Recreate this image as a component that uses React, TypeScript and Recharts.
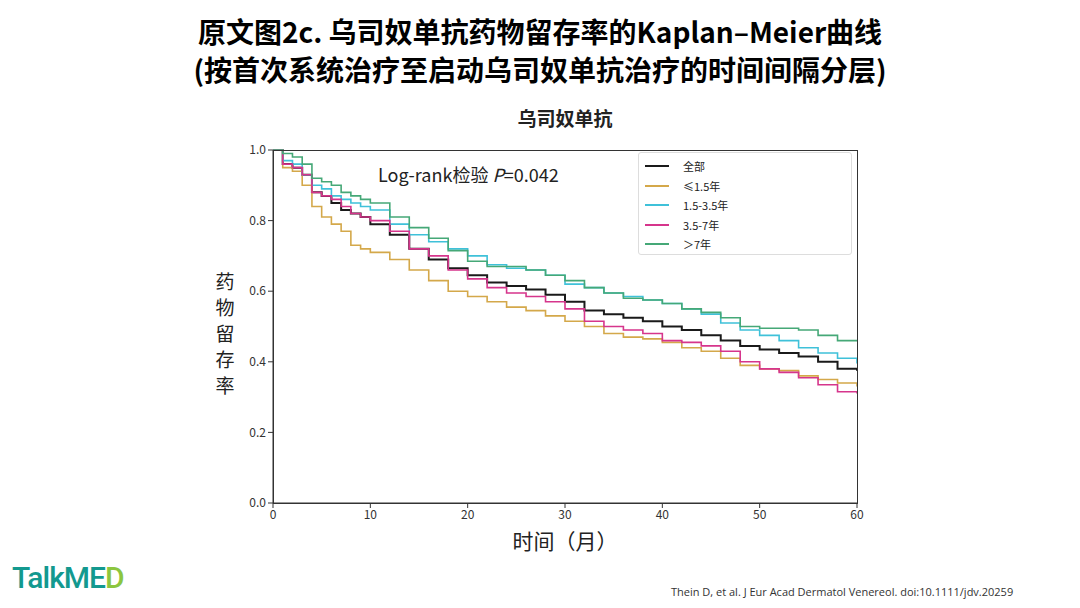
import React from "react";
import { LineChart, Line, XAxis, YAxis } from "recharts";

const months = [0,1,2,3,4,5,6,7,8,9,10,12,14,16,18,20,22,24,26,28,30,32,34,36,38,40,42,44,46,48,50,52,54,56,58,60];
const allVals = [1,0.96,0.95,0.93,0.88,0.87,0.85,0.83,0.82,0.81,0.79,0.76,0.72,0.69,0.665,0.645,0.625,0.615,0.605,0.59,0.57,0.545,0.535,0.525,0.515,0.5,0.49,0.475,0.46,0.445,0.435,0.425,0.415,0.4,0.38,0.375];
const le15Vals = [1,0.95,0.94,0.9,0.84,0.81,0.79,0.77,0.73,0.72,0.71,0.69,0.66,0.63,0.6,0.585,0.57,0.555,0.545,0.53,0.515,0.5,0.48,0.47,0.465,0.455,0.44,0.43,0.41,0.39,0.38,0.375,0.36,0.35,0.34,0.33];
const v15to35 = [1,0.97,0.96,0.93,0.9,0.89,0.87,0.86,0.85,0.84,0.83,0.79,0.76,0.74,0.72,0.7,0.675,0.665,0.66,0.645,0.62,0.61,0.595,0.585,0.575,0.565,0.55,0.535,0.51,0.49,0.475,0.46,0.44,0.425,0.41,0.395];
const v35to7 = [1,0.96,0.95,0.93,0.88,0.87,0.86,0.84,0.82,0.81,0.8,0.77,0.72,0.7,0.66,0.635,0.61,0.595,0.585,0.57,0.55,0.515,0.5,0.49,0.48,0.46,0.455,0.445,0.43,0.4,0.38,0.37,0.355,0.335,0.315,0.31];
const gt7Vals = [1,0.99,0.98,0.96,0.92,0.91,0.9,0.88,0.87,0.86,0.85,0.81,0.78,0.75,0.715,0.685,0.67,0.67,0.66,0.645,0.63,0.61,0.595,0.58,0.575,0.565,0.55,0.54,0.525,0.5,0.495,0.495,0.49,0.475,0.46,0.46];
const xTicks = [0,10,20,30,40,50,60];
const yTicks = [0,0.2,0.4,0.6,0.8,1.0];

const series = [
  { name: "全部", vals: allVals, color: "#1a1a1a" },
  { name: "≤1.5年", vals: le15Vals, color: "#d4a84a" },
  { name: "1.5-3.5年", vals: v15to35, color: "#3fc1d9" },
  { name: "3.5-7年", vals: v35to7, color: "#d6358c" },
  { name: "＞7年", vals: gt7Vals, color: "#45a877" },
];
const data = months.map((m, i) => {
  const r: any = { m };
  series.forEach((s, k) => (r["s" + k] = s.vals[i]));
  return r;
});

const abs = (x: number, y: number, extra: any = {}) => ({ position: "absolute" as const, left: x, top: y, ...extra });
const font = "'Noto Sans CJK SC', 'Noto Sans', sans-serif";

export default function App() {
  return (
    <div style={{ position: "absolute", left: 0, top: 0, width: 1080, height: 608, background: "#fff", fontFamily: font, overflow: "hidden" }}>
      <div style={abs(0, 12, { width: 1080, textAlign: "center", fontSize: 28, fontWeight: 700, lineHeight: "38px", color: "#000" })}>
        <div>原文图2c. 乌司奴单抗药物留存率的Kaplan–Meier曲线</div>
        <div>(按首次系统治疗至启动乌司奴单抗治疗的时间间隔分层)</div>
      </div>
      <div style={abs(273, 104, { width: 584, textAlign: "center", fontSize: 19, fontWeight: 700, color: "#222" })}>乌司奴单抗</div>
      <LineChart width={1080} height={608} data={data} margin={{ left: 233, right: 223, top: 150, bottom: 75 }}>
        <XAxis dataKey="m" type="number" domain={[0, 60]} ticks={xTicks} tick={{ fontSize: 12, fill: "#333" }} tickSize={5} stroke="#333" height={30} />
        <YAxis type="number" domain={[0, 1]} ticks={yTicks} tickFormatter={(v: number) => v.toFixed(1)} tick={{ fontSize: 12, fill: "#333" }} tickSize={5} stroke="#333" width={40} />
        {series.map((s, k) => (
          <Line key={k} dataKey={"s" + k} type="stepAfter" stroke={s.color} strokeWidth={k === 0 ? 2 : 1.6} dot={false} isAnimationActive={false} />
        ))}
      </LineChart>
      <div style={abs(273, 150, { width: 585, height: 354, border: "1px solid #333", boxSizing: "border-box", pointerEvents: "none" })} />
      <div style={abs(378, 161, { fontSize: 18, color: "#222" })}>Log-rank检验 <i>P</i>=0.042</div>
      <div style={abs(638, 152, { width: 214, height: 103, border: "1px solid #ddd", borderRadius: 3, boxSizing: "border-box", background: "#fff" })}>
        {series.map((s, k) => (
          <div key={k} style={abs(6, 4 + k * 19.5, { display: "flex", alignItems: "center", fontSize: 11, color: "#222", height: 18 })}>
            <span style={{ display: "inline-block", width: 24, height: 2, background: s.color, marginRight: 14 }} />
            {s.name}
          </div>
        ))}
      </div>
      <div style={abs(210, 268, { width: 30, textAlign: "center", fontSize: 19, lineHeight: "26px", color: "#222" })}>药<br />物<br />留<br />存<br />率</div>
      <div style={abs(273, 525, { width: 584, textAlign: "center", fontSize: 21, color: "#222" })}>时间（月）</div>
      <div style={abs(12, 560, { fontSize: 30, fontFamily: "Roboto, sans-serif", fontWeight: 500, color: "#13998f", letterSpacing: -1 })}>TalkME<span style={{ color: "#8cc63f" }}>D</span></div>
      <div style={abs(671, 584, { fontSize: 11, fontFamily: "'Open Sans', sans-serif", color: "#333" })}>Thein D, et al. J Eur Acad Dermatol Venereol. doi:10.1111/jdv.20259</div>
    </div>
  );
}
